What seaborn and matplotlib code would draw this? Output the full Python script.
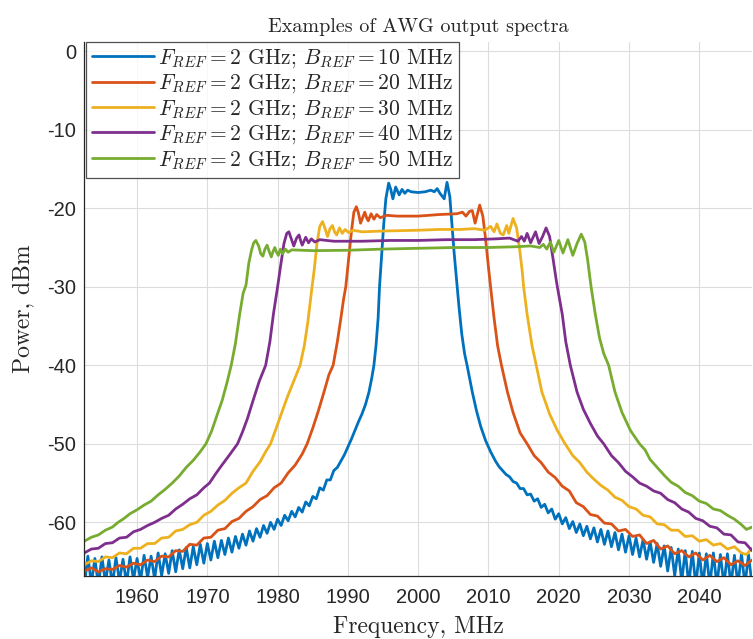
import matplotlib
matplotlib.use('Agg')
import matplotlib.pyplot as plt
import seaborn as sns

# Values (frequency in MHz, power in dBm)

# B_REF = 10 MHz (blue)
freq_10 = [1952.5, 1953.0, 1953.5, 1954.0, 1954.5, 1955.0, 1955.5, 1956.0, 1956.5, 1957.0,
           1957.5, 1958.0, 1958.5, 1959.0, 1959.5, 1960.0, 1960.5, 1961.0, 1961.5, 1962.0,
           1962.5, 1963.0, 1963.5, 1964.0, 1964.5, 1965.0, 1965.5, 1966.0, 1966.5, 1967.0,
           1967.5, 1968.0, 1968.5, 1969.0, 1969.5, 1970.0, 1970.5, 1971.0, 1971.5, 1972.0,
           1972.5, 1973.0, 1973.5, 1974.0, 1974.5, 1975.0, 1975.5, 1976.0, 1976.5, 1977.0,
           1977.5, 1978.0, 1978.5, 1979.0, 1979.5, 1980.0, 1980.5, 1981.0, 1981.5, 1982.0,
           1982.5, 1983.0, 1983.5, 1984.0, 1984.5, 1985.0, 1985.5, 1986.0, 1986.5, 1987.0,
           1987.5, 1988.0, 1988.5, 1989.0, 1989.5, 1990.0, 1990.5, 1991.0, 1991.5, 1992.0,
           1992.5, 1993.0, 1993.4, 1993.7, 1994.0, 1994.3, 1994.5, 1994.8, 1995.1, 1995.4,
           1995.8, 1996.1, 1996.4, 1996.8, 1997.3, 1997.7, 1998.1, 1998.5, 1999.0, 2000.0,
           2001.0, 2001.8, 2002.3, 2002.7, 2003.1, 2003.7, 2004.1, 2004.5, 2004.8, 2005.1,
           2005.5, 2005.8, 2006.2, 2006.6, 2007.0, 2007.7, 2008.3, 2008.9, 2009.6, 2010.3,
           2011.0, 2011.5, 2012.0, 2012.5, 2013.0, 2013.5, 2014.0, 2014.5, 2015.0, 2015.5,
           2016.0, 2016.5, 2017.0, 2017.5, 2018.0, 2018.5, 2019.0, 2019.5, 2020.0, 2020.5,
           2021.0, 2021.5, 2022.0, 2022.5, 2023.0, 2023.5, 2024.0, 2024.5, 2025.0, 2025.5,
           2026.0, 2026.5, 2027.0, 2027.5, 2028.0, 2028.5, 2029.0, 2029.5, 2030.0, 2030.5,
           2031.0, 2031.5, 2032.0, 2032.5, 2033.0, 2033.5, 2034.0, 2034.5, 2035.0, 2035.5,
           2036.0, 2036.5, 2037.0, 2037.5, 2038.0, 2038.5, 2039.0, 2039.5, 2040.0, 2040.5,
           2041.0, 2041.5, 2042.0, 2042.5, 2043.0, 2043.5, 2044.0, 2044.5, 2045.0, 2045.5,
           2046.0, 2046.5, 2047.0, 2047.5]
power_10 = [-68.0, -64.3, -67.8, -64.6, -68.0, -64.4, -67.6, -64.8, -67.9, -64.5,
            -67.5, -64.7, -67.8, -64.4, -67.3, -64.6, -67.4, -64.2, -67.0, -64.3,
            -67.2, -63.9, -66.8, -64.0, -66.5, -63.6, -66.3, -63.5, -65.9, -63.2,
            -65.8, -63.1, -65.4, -62.8, -65.2, -62.7, -64.8, -62.4, -64.5, -62.3,
            -64.1, -62.0, -63.8, -61.8, -63.3, -61.5, -62.9, -61.1, -62.4, -60.8,
            -61.9, -60.4, -61.4, -60.0, -60.9, -59.6, -60.4, -59.1, -59.8, -58.6,
            -59.3, -58.1, -58.7, -57.4, -57.9, -56.7, -57.0, -55.6, -55.9, -54.6,
            -54.6, -53.4, -53.0, -52.2, -51.4, -50.4, -49.4, -48.3, -47.2, -46.2,
            -45.0, -43.4, -41.6, -40.0, -37.5, -34.0, -30.0, -26.0, -22.0, -18.8,
            -16.8, -17.6, -18.8, -17.3, -18.3, -17.6, -18.1, -17.7, -17.9, -18.0,
            -17.9, -17.7, -17.9, -17.5, -18.1, -18.8, -16.7, -18.5, -22.0, -25.5,
            -29.5, -32.5, -36.0, -38.5, -40.2, -43.4, -45.8, -47.8, -49.6, -51.0,
            -52.2, -52.9, -53.4, -53.9, -54.2, -54.8, -55.0, -55.7, -55.7, -56.5,
            -56.4, -57.3, -57.0, -58.1, -57.7, -58.8, -58.3, -59.6, -58.9, -60.2,
            -59.4, -60.8, -59.9, -61.3, -60.2, -61.7, -60.5, -62.1, -60.7, -62.5,
            -60.9, -62.8, -61.1, -63.1, -61.3, -63.5, -61.5, -63.8, -61.7, -64.1,
            -62.0, -64.4, -62.2, -64.7, -62.5, -65.1, -62.7, -65.6, -63.0, -66.2,
            -63.2, -66.8, -63.4, -67.5, -63.6, -68.0, -63.7, -68.0, -63.9, -68.0,
            -64.0, -68.0, -63.9, -68.0, -64.1, -68.0, -64.0, -68.0, -64.2, -68.0,
            -64.0, -68.0, -64.1, -68.0]

# B_REF = 20 MHz (orange)
freq_20 = [1952.5, 1953.5, 1954.5, 1955.5, 1956.5, 1957.5, 1958.5, 1959.5, 1960.5, 1961.5,
           1962.5, 1963.5, 1964.5, 1965.5, 1966.5, 1967.5, 1968.5, 1969.5, 1970.5, 1971.5,
           1972.5, 1973.5, 1974.5, 1975.5, 1976.5, 1977.5, 1978.5, 1979.5, 1980.5, 1981.5,
           1982.5, 1983.5, 1984.2, 1985.0, 1985.8, 1986.6, 1987.3, 1987.9, 1988.5, 1989.0,
           1989.4, 1989.7, 1990.1, 1990.5, 1990.85, 1991.2, 1991.5, 1991.8, 1992.1, 1992.4,
           1992.7, 1992.9, 1993.3, 1993.7, 1994.1, 1994.6, 1995.5, 1997.0, 2000.0, 2003.0,
           2005.5, 2006.3, 2006.8, 2007.3, 2007.7, 2008.1, 2008.75, 2009.2, 2009.6, 2010.0,
           2010.3, 2010.8, 2011.3, 2011.85, 2012.7, 2013.5, 2014.5, 2015.5, 2016.5, 2017.5,
           2018.5, 2019.5, 2020.5, 2021.5, 2022.5, 2023.5, 2024.5, 2025.5, 2026.5, 2027.5,
           2028.5, 2029.5, 2030.5, 2031.5, 2032.5, 2033.5, 2034.5, 2035.5, 2036.5, 2037.5,
           2038.5, 2039.5, 2040.5, 2041.5, 2042.5, 2043.5, 2044.5, 2045.5, 2046.5, 2047.5]
power_20 = [-66.2, -65.8, -66.3, -65.9, -66.0, -65.5, -65.7, -65.2, -65.4, -64.8,
            -65.0, -64.3, -64.4, -63.6, -63.7, -62.8, -62.9, -62.0, -61.9, -61.0,
            -60.8, -59.9, -59.5, -58.6, -58.0, -57.1, -56.6, -55.6, -55.0, -53.7,
            -52.7, -51.3, -50.0, -48.0, -45.8, -43.4, -41.2, -40.0, -37.0, -34.0,
            -31.5, -30.0, -26.5, -23.0, -20.5, -19.8, -20.6, -21.9, -21.2, -20.5,
            -21.3, -21.6, -20.7, -21.4, -20.8, -21.2, -20.9, -21.0, -21.0, -20.8,
            -20.7, -20.5, -21.0, -20.4, -20.3, -21.9, -19.6, -21.0, -24.0, -27.5,
            -30.0, -34.0, -37.5, -40.0, -43.4, -46.0, -48.6, -50.0, -51.5, -52.4,
            -53.6, -54.3, -55.4, -56.0, -57.5, -58.0, -59.0, -59.2, -60.1, -60.2,
            -61.1, -60.9, -61.8, -61.6, -62.7, -62.3, -63.4, -63.0, -64.0, -63.6,
            -64.4, -63.9, -64.8, -64.2, -65.0, -64.5, -65.4, -64.9, -65.5, -64.8]

# B_REF = 30 MHz (yellow)
freq_30 = [1952.5, 1953.5, 1954.5, 1955.5, 1956.5, 1957.5, 1958.5, 1959.5, 1960.5, 1961.5,
           1962.5, 1963.5, 1964.5, 1965.5, 1966.5, 1967.5, 1968.5, 1969.5, 1970.5, 1971.5,
           1972.5, 1973.5, 1974.5, 1975.5, 1976.5, 1977.5, 1978.3, 1979.0, 1979.8, 1980.6,
           1981.4, 1982.3, 1983.2, 1983.8, 1984.3, 1984.7, 1984.9, 1985.2, 1985.6, 1986.0,
           1986.4, 1986.75, 1987.1, 1987.45, 1987.8, 1988.1, 1988.4, 1988.8, 1989.2, 1989.6,
           1990.1, 1990.7, 1992.0, 1995.0, 2000.0, 2003.0, 2006.0, 2008.0, 2009.5, 2010.3,
           2010.8, 2011.2, 2011.7, 2012.1, 2012.6, 2012.9, 2013.5, 2014.0, 2014.4, 2014.8,
           2015.0, 2015.5, 2016.2, 2016.8, 2017.6, 2018.7, 2019.8, 2020.9, 2022.0, 2023.0,
           2024.0, 2025.0, 2026.0, 2027.0, 2028.0, 2029.0, 2030.0, 2031.0, 2032.0, 2033.0,
           2034.0, 2035.0, 2036.0, 2037.0, 2038.0, 2039.0, 2040.0, 2041.0, 2042.0, 2043.0,
           2044.0, 2045.0, 2046.0, 2046.7, 2047.5]
power_30 = [-65.4, -64.9, -65.0, -64.4, -64.5, -63.9, -64.0, -63.3, -63.3, -62.7,
            -62.7, -62.0, -61.9, -61.1, -60.9, -60.3, -60.0, -59.1, -58.6, -57.8,
            -57.2, -56.3, -55.6, -55.0, -53.5, -52.3, -51.0, -50.0, -48.0, -46.0,
            -44.0, -42.0, -40.0, -37.5, -34.5, -31.5, -30.0, -27.9, -24.5, -22.3,
            -21.7, -22.6, -23.6, -22.6, -22.2, -23.0, -23.4, -22.5, -23.2, -22.7,
            -23.1, -22.8, -23.0, -22.9, -22.8, -22.7, -22.7, -22.6, -22.8, -22.3,
            -23.0, -22.0, -23.2, -23.4, -22.2, -23.2, -21.3, -22.5, -25.0, -28.0,
            -30.0, -33.5, -37.5, -40.0, -43.4, -46.2, -48.3, -50.0, -51.5, -52.4,
            -53.6, -54.5, -55.3, -55.9, -56.8, -57.2, -58.0, -58.3, -59.1, -59.3,
            -60.2, -60.3, -61.0, -61.0, -61.8, -61.7, -62.4, -62.2, -62.9, -62.7,
            -63.4, -63.1, -63.9, -64.1, -63.3]

# B_REF = 40 MHz (purple)
freq_40 = [1952.5, 1953.5, 1954.5, 1955.5, 1956.5, 1957.5, 1958.5, 1959.5, 1960.5, 1961.5,
           1962.5, 1963.5, 1964.5, 1965.5, 1966.5, 1967.5, 1968.5, 1969.5, 1970.3, 1971.2,
           1972.0, 1973.0, 1974.3, 1975.0, 1975.7, 1976.5, 1977.4, 1978.3, 1978.9, 1979.4,
           1980.0, 1980.4, 1980.9, 1981.3, 1981.6, 1981.95, 1982.3, 1982.7, 1983.05, 1983.3,
           1983.5, 1984.0, 1984.4, 1984.8, 1985.3, 1986.0, 1988.0, 1992.0, 1996.0, 2000.0,
           2004.0, 2008.0, 2011.0, 2013.0, 2014.2, 2014.7, 2015.1, 2015.5, 2016.0, 2016.7,
           2017.2, 2017.7, 2018.2, 2018.7, 2019.2, 2019.6, 2019.8, 2020.5, 2021.0, 2021.65,
           2022.6, 2023.5, 2024.5, 2025.5, 2026.4, 2027.5, 2028.5, 2029.5, 2030.5, 2031.5,
           2032.5, 2033.5, 2034.5, 2035.5, 2036.5, 2037.5, 2038.5, 2039.5, 2040.5, 2041.5,
           2042.5, 2043.5, 2044.5, 2045.5, 2046.5, 2047.5]
power_40 = [-63.9, -63.4, -63.3, -62.7, -62.6, -62.0, -61.9, -61.2, -60.9, -60.4,
            -60.0, -59.5, -59.1, -58.3, -57.7, -57.0, -56.5, -55.6, -55.0, -53.8,
            -52.8, -51.6, -50.0, -48.5, -46.8, -44.5, -42.0, -40.0, -37.0, -33.5,
            -30.0, -27.5, -24.5, -23.2, -23.0, -23.9, -24.8, -23.8, -23.4, -24.2,
            -24.7, -23.7, -24.4, -23.9, -24.3, -24.0, -24.2, -24.2, -24.1, -24.1,
            -24.0, -24.0, -23.9, -23.8, -24.2, -23.6, -24.2, -23.2, -24.4, -23.0,
            -24.5, -23.6, -22.5, -23.6, -26.5, -28.9, -30.0, -33.5, -37.0, -40.0,
            -43.4, -45.6, -47.4, -49.0, -50.0, -51.5, -52.4, -53.5, -54.2, -55.0,
            -55.4, -56.0, -56.3, -57.1, -57.5, -58.3, -58.7, -59.5, -59.8, -60.5,
            -60.7, -61.5, -61.6, -62.5, -62.6, -63.6]

# B_REF = 50 MHz (green)
freq_50 = [1952.5, 1953.5, 1954.5, 1955.5, 1956.5, 1957.3, 1958.0, 1959.0, 1960.0, 1961.0,
           1962.0, 1963.0, 1964.0, 1965.0, 1966.0, 1967.0, 1968.0, 1969.0, 1969.8, 1970.6,
           1971.4, 1972.1, 1972.8, 1973.4, 1974.0, 1974.6, 1975.1, 1975.5, 1975.9, 1976.3,
           1976.6, 1976.9, 1977.3, 1977.6, 1977.9, 1978.2, 1978.5, 1978.8, 1979.1, 1979.35,
           1979.6, 1979.85, 1980.1, 1980.4, 1980.7, 1981.1, 1981.5, 1982.0, 1985.0, 1990.0,
           1995.0, 2000.0, 2005.0, 2010.0, 2014.0, 2016.0, 2017.3, 2017.8, 2018.3, 2018.8,
           2019.3, 2020.0, 2020.6, 2021.3, 2022.0, 2022.6, 2023.2, 2023.7, 2024.1, 2024.6,
           2025.2, 2025.8, 2026.4, 2027.1, 2028.0, 2029.0, 2030.2, 2031.5, 2032.3, 2033.0,
           2034.0, 2035.0, 2036.0, 2037.0, 2038.0, 2039.0, 2040.0, 2041.0, 2042.0, 2043.0,
           2044.0, 2045.0, 2046.0, 2046.7, 2047.5]
power_50 = [-62.4, -61.9, -61.6, -61.0, -60.6, -60.0, -59.6, -58.9, -58.4, -57.8,
            -57.3, -56.5, -55.8, -55.0, -54.1, -53.0, -52.1, -51.0, -50.0, -48.4,
            -46.3, -44.5, -42.2, -40.0, -37.2, -33.5, -30.8, -29.8, -27.0, -25.3,
            -24.4, -24.1, -24.8, -25.8, -26.1, -25.2, -24.7, -25.5, -26.2, -25.5,
            -25.0, -25.6, -26.0, -25.2, -25.8, -25.2, -25.6, -25.3, -25.4, -25.35,
            -25.2, -25.1, -25.0, -25.0, -24.9, -24.8, -25.0, -24.6, -25.2, -24.3,
            -25.6, -24.1, -25.7, -24.0, -26.0, -24.5, -23.3, -24.3, -26.5, -30.0,
            -33.5, -36.5, -38.5, -40.0, -43.4, -46.0, -48.3, -50.0, -50.8, -52.0,
            -53.0, -54.0, -54.9, -55.4, -56.2, -56.6, -57.3, -57.6, -58.3, -58.5,
            -59.1, -59.6, -60.3, -60.9, -60.6]

labels = [r'$F_{REF}=2$ GHz; $B_{REF}=10$ MHz',
          r'$F_{REF}=2$ GHz; $B_{REF}=20$ MHz',
          r'$F_{REF}=2$ GHz; $B_{REF}=30$ MHz',
          r'$F_{REF}=2$ GHz; $B_{REF}=40$ MHz',
          r'$F_{REF}=2$ GHz; $B_{REF}=50$ MHz']
colors = ['#0072BD', '#D95319', '#EDB120', '#7E2F8E', '#77AC30']
x_ticks = [1960, 1970, 1980, 1990, 2000, 2010, 2020, 2030, 2040]
y_ticks = [-60, -50, -40, -30, -20, -10, 0]

sns.set_theme(style='white')
plt.rcParams['mathtext.fontset'] = 'cm'
plt.rcParams['axes.unicode_minus'] = False
plt.rcParams['axes.formatter.use_mathtext'] = True

fig, ax = plt.subplots(figsize=(7.53, 6.39), dpi=100)
fig.subplots_adjust(left=0.112, right=0.9987, top=0.934, bottom=0.099)

series = [(freq_10, power_10), (freq_20, power_20), (freq_30, power_30),
          (freq_40, power_40), (freq_50, power_50)]
for (f, p), lab, col in zip(series, labels, colors):
    sns.lineplot(x=f, y=p, ax=ax, color=col, linewidth=2.0, label=lab,
                 estimator=None, sort=False)

ax.set_xlim(1952.5, 2047.5)
ax.set_ylim(-66.8, 1.15)
ax.set_xticks(x_ticks)
ax.set_xticklabels([str(v) for v in x_ticks], family='Liberation Sans', size=14.5, color='#262626')
ax.set_yticks(y_ticks)
ax.set_yticklabels([str(v) for v in y_ticks], family='Liberation Sans', size=14.5, color='#262626')

ax.grid(True, color='#dcdcdc', linewidth=0.8)
ax.set_axisbelow(True)
for side in ['top', 'right']:
    ax.spines[side].set_visible(False)
for side in ['left', 'bottom']:
    ax.spines[side].set_color('#262626')
    ax.spines[side].set_linewidth(0.9)
ax.tick_params(direction='in', length=4, width=0.9, color='#262626')
ax.tick_params(axis='x', pad=9)
ax.tick_params(axis='y', pad=6)

ax.set_title('Examples of AWG output spectra', family='cmr10', size=14.5, pad=7)
ax.set_xlabel('Frequency, MHz', family='cmr10', size=17, labelpad=6)
ax.set_ylabel('Power, dBm', family='cmr10', size=17, labelpad=9)

leg = ax.legend(loc='upper left', bbox_to_anchor=(0.003, 1.0), borderaxespad=0,
                prop={'family': 'cmr10', 'size': 15.5}, frameon=True, fancybox=False,
                handlelength=2.9, handletextpad=0.2, labelspacing=0.12,
                borderpad=0.25)
leg.get_frame().set_edgecolor('#262626')
leg.get_frame().set_linewidth(0.9)
for line in leg.get_lines():
    line.set_linewidth(2.0)

fig.savefig('out.png', dpi=100)
